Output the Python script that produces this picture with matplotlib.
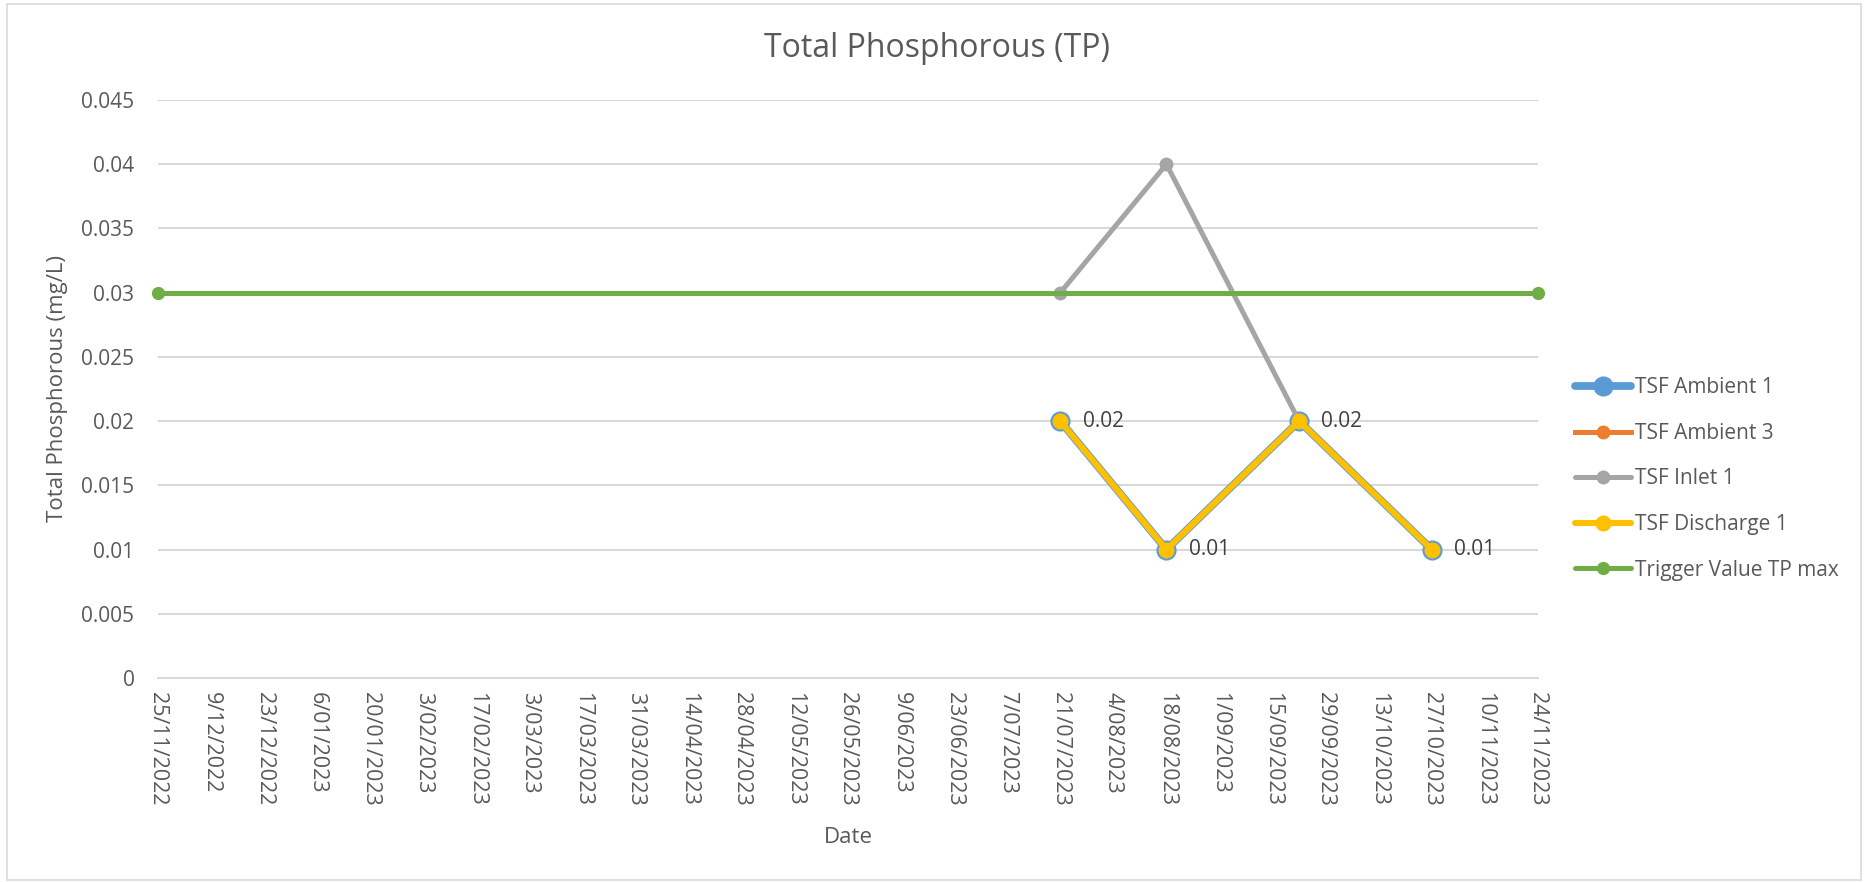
import matplotlib
matplotlib.use("Agg")
import matplotlib.pyplot as plt
import matplotlib.dates as mdates
from matplotlib.ticker import FuncFormatter, MultipleLocator
from matplotlib.patches import Rectangle
import datetime as dt

plt.rcParams['font.family'] = ['Open Sans', 'DejaVu Sans']

# ---- data ----
amb1_dates = ["2023-07-21", "2023-08-18", "2023-09-22", "2023-10-27"]
amb1_vals = [0.02, 0.01, 0.02, 0.01]
amb3_dates = []
amb3_vals = []
inlet_dates = ["2023-07-21", "2023-08-18", "2023-09-22"]
inlet_vals = [0.03, 0.04, 0.02]
dis_dates = ["2023-07-21", "2023-08-18", "2023-09-22", "2023-10-27"]
dis_vals = [0.02, 0.01, 0.02, 0.01]
trig_dates = ["2022-11-25", "2023-11-24"]
trig_vals = [0.03, 0.03]
label_vals = ["0.02", "0.01", "0.02", "0.01"]
x_start, x_end = "2022-11-25", "2023-11-24"

def P(ds):
    return [dt.datetime.strptime(d, "%Y-%m-%d") for d in ds]

W, H = 1868, 882
FS = 15
fig = plt.figure(figsize=(W/100, H/100), dpi=100)
fig.patch.set_facecolor('white')
fig.add_artist(Rectangle((7/W, 2/H), (W-14)/W, (H-6)/H, transform=fig.transFigure,
                         fill=False, edgecolor='#D9D9D9', linewidth=1.2))

L, R, T, B = 158, 1538, 100, 678
ax = fig.add_axes([L/W, 1-B/H, (R-L)/W, (B-T)/H])

c_blue, c_orange, c_grey, c_yellow, c_green = '#5B9BD5', '#ED7D31', '#A5A5A5', '#FFC000', '#70AD47'

ax.plot(P(amb1_dates), amb1_vals, color=c_blue, lw=5.6, marker='o', ms=13.5,
        mfc=c_blue, mec=c_blue, label='TSF Ambient 1', zorder=3, solid_capstyle='round')
ax.plot(P(amb3_dates), amb3_vals, color=c_orange, lw=3.6, marker='o', ms=9,
        mfc=c_orange, mec=c_orange, label='TSF Ambient 3', zorder=3)
ax.plot(P(inlet_dates), inlet_vals, color=c_grey, lw=3.6, marker='o', ms=9,
        mfc=c_grey, mec=c_grey, label='TSF Inlet 1', zorder=4, solid_capstyle='round')
ax.plot(P(dis_dates), dis_vals, color=c_yellow, lw=4.4, marker='o', ms=10.5,
        mfc=c_yellow, mec=c_yellow, label='TSF Discharge 1', zorder=5, solid_capstyle='round')
ax.plot(P(trig_dates), trig_vals, color=c_green, lw=3.6, marker='o', ms=8.5,
        mfc=c_green, mec=c_green, label='Trigger Value TP max', zorder=6,
        solid_capstyle='round', clip_on=False)

for d, v, s in zip(P(amb1_dates), amb1_vals, label_vals):
    ax.annotate(s, (d, v), xytext=(16, 0), textcoords='offset points', va='center',
                ha='left', fontsize=FS, color='#404040', zorder=7)

ax.set_xlim(P([x_start])[0], P([x_end])[0])
ax.set_ylim(0, 0.045)
ax.yaxis.set_major_locator(MultipleLocator(0.005))
ax.yaxis.set_major_formatter(FuncFormatter(lambda v, p: '0' if abs(v) < 1e-12 else ('%.3f' % v).rstrip('0')))
ticks = mdates.drange(P([x_start])[0], P([x_end])[0] + dt.timedelta(days=1), dt.timedelta(days=14))
ax.set_xticks(ticks)
ax.xaxis.set_major_formatter(FuncFormatter(
    lambda v, p: (lambda d: f"{d.day}/{d.month:02d}/{d.year}")(mdates.num2date(v))))
ax.tick_params(axis='x', length=0, pad=10, labelsize=15.5, labelcolor='#595959', labelrotation=-90)
ax.tick_params(axis='y', length=0, pad=17, labelsize=FS, labelcolor='#595959')
for lab in ax.get_xticklabels():
    lab.set_va('top')
ax.grid(axis='y', color='#D9D9D9', lw=1.5)
ax.set_axisbelow(True)
for s in ['top', 'right', 'left']:
    ax.spines[s].set_visible(False)
ax.spines['bottom'].set_color('#D9D9D9')
ax.spines['bottom'].set_linewidth(1.5)

fig.text(937/W, 1-57/H, 'Total Phosphorous (TP)', ha='center', va='baseline', fontsize=23, color='#595959')
fig.text(58/W, 1-389/H, 'Total Phosphorous (mg/L)', ha='center', va='center', rotation=90,
         fontsize=16, color='#595959')
fig.text(848/W, 1-843/H, 'Date', ha='center', va='baseline', fontsize=16, color='#595959')

leg = fig.legend(loc='center left', bbox_to_anchor=(1575/W, 1-479/H), frameon=False,
                 borderaxespad=0, borderpad=0, handlelength=2.7, handletextpad=0.2,
                 labelspacing=1.18, fontsize=FS)
for t in leg.get_texts():
    t.set_color('#595959')

fig.savefig('out.png', dpi=100, facecolor='white')
